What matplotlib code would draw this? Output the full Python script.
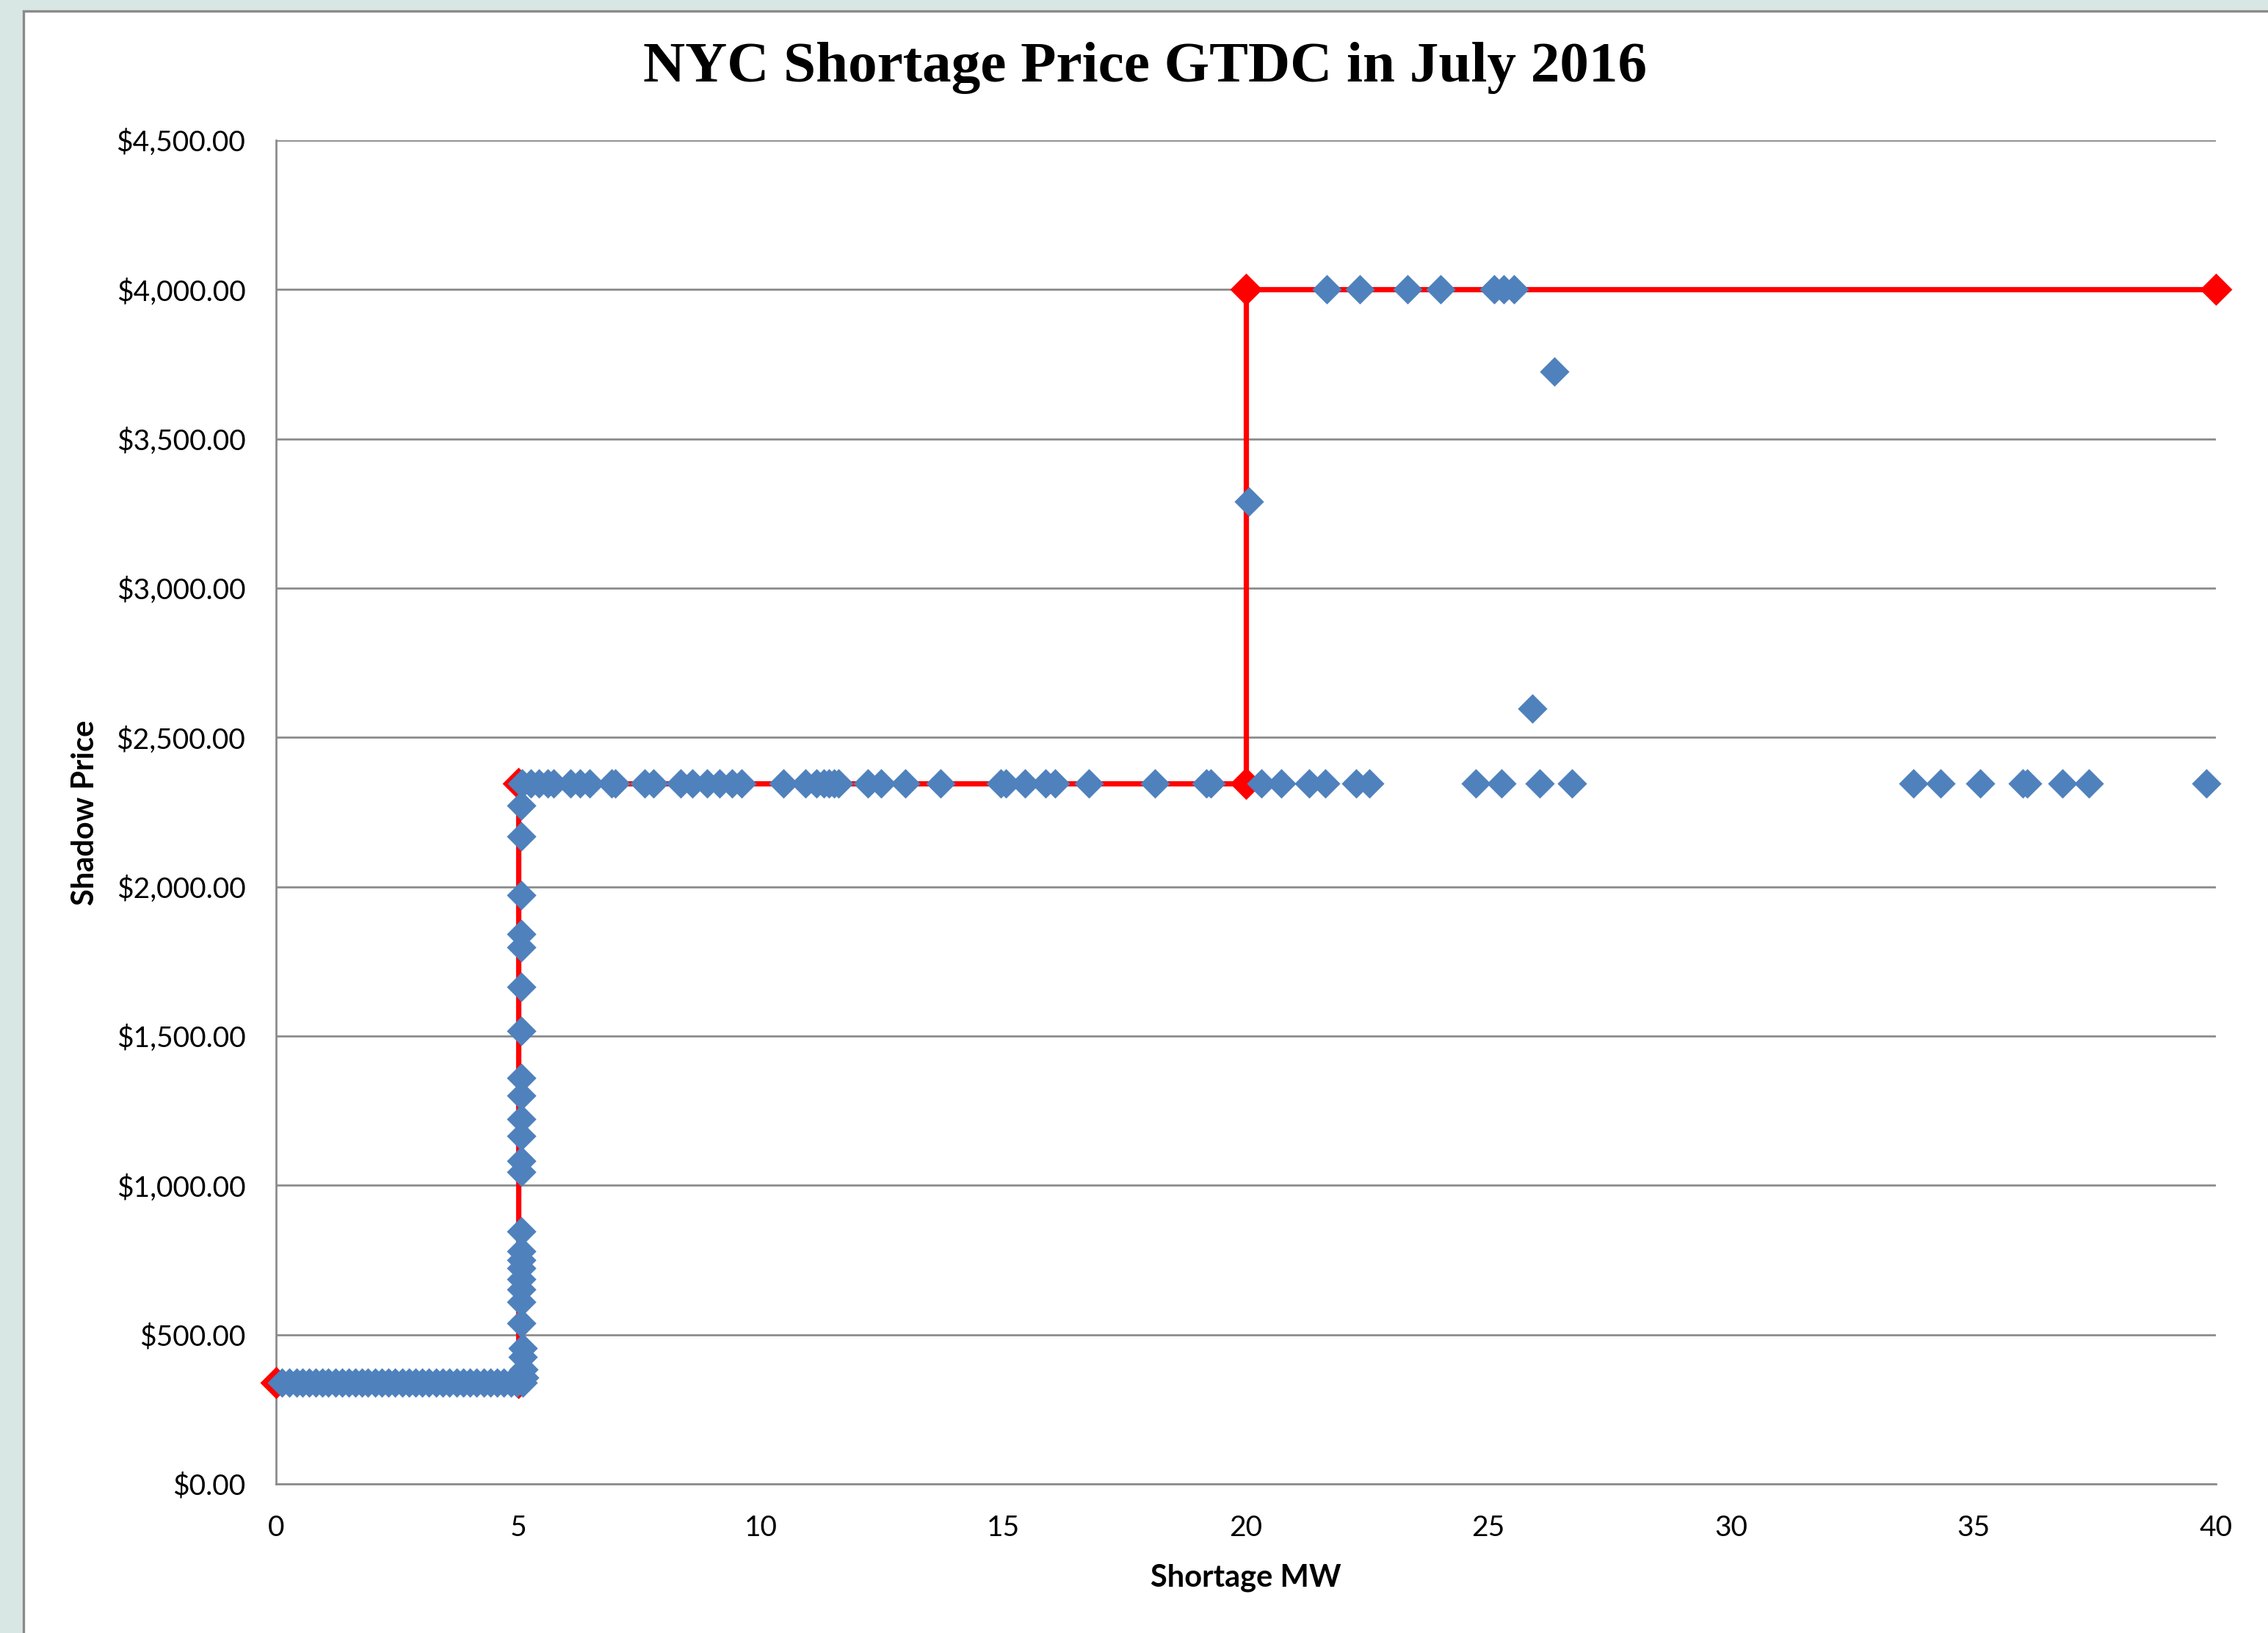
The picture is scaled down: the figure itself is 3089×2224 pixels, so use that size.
"""
NYC shortage price vs. shortage MW (GTDC), July 2016.
Excel-style scatter with the step curve on top.
"""

import matplotlib
matplotlib.use("Agg")
import matplotlib.pyplot as plt
from matplotlib.patches import Rectangle
from matplotlib.ticker import FuncFormatter, MultipleLocator

# ===== data =====
# demand curve (red step)
curve_mw = [0, 5, 5, 20, 20, 40]
curve_price = [340, 340, 2345, 2345, 4000, 4000]

# observed points on the $340 step
low_mw = [0.12, 0.27, 0.42, 0.55, 0.68, 0.82, 0.95, 1.08, 1.22, 1.36, 1.5,
          1.63, 1.77, 1.9, 2.05, 2.18, 2.32, 2.46, 2.6, 2.74, 2.88, 3.02,
          3.15, 3.3, 3.44, 3.58, 3.72, 3.86, 4.0, 4.14, 4.28, 4.42, 4.56,
          4.7, 4.84, 4.96, 5.08]
low_price = 340

# observed points on the vertical ramp at 5 MW
ramp_mw = [5.05, 5.05, 5.05, 5.05, 5.05, 5.05, 5.05, 5.05, 5.05, 5.05,
           5.05, 5.05, 5.05, 5.05, 5.05, 5.05, 5.05, 5.05, 5.05, 5.05,
           5.05, 5.08, 5.08, 5.1, 5.12]
ramp_price = [2272, 2169, 1972, 1842, 1797, 1665, 1517, 1360, 1301, 1222,
              1166, 1082, 1045, 846, 779, 750, 723, 686, 652, 610,
              538, 455, 425, 384, 357]

# observed points on the $2,345 step (and beyond 20 MW)
mid_mw = [5.07, 5.25, 5.42, 5.6, 5.72, 6.07, 6.27, 6.47, 6.92, 7.0, 7.6,
          7.78, 8.34, 8.59, 8.89, 9.14, 9.4, 9.6, 10.46, 10.92, 11.15,
          11.3, 11.4, 11.5, 11.6, 12.2, 12.47, 12.98, 13.7, 14.95, 15.05,
          15.45, 15.86, 16.06, 16.76, 18.13, 19.19, 19.27, 20.32, 20.73,
          21.3, 21.63, 22.27, 22.55, 24.74, 25.27, 26.05, 26.72, 33.76,
          34.32, 35.14, 36.02, 36.11, 36.84, 37.38, 39.8]
mid_price = 2345

# observed points on the $4,000 step
top_mw = [21.67, 22.35, 23.33, 24.01, 25.12, 25.31, 25.53]
top_price = 4000

# off-curve points
other_mw = [20.06, 26.36, 25.9]
other_price = [3290, 3726, 2597]

TITLE = "NYC Shortage Price GTDC in July 2016"
X_LABEL = "Shortage MW"
Y_LABEL = "Shadow Price"

BLUE = "#4F81BD"
RED = "#FF0000"
GRID = "#8C8C8C"

# ===== figure =====
W, H, DPI = 3089, 2224, 200
fig = plt.figure(figsize=(W / DPI, H / DPI), dpi=DPI, facecolor="#d8e7e3")

# white chart area with grey border (slide background shows on left/top)
fig.patches.append(Rectangle((32 / W, -0.01), 1.02, 1 - 15 / H + 0.01,
                             transform=fig.transFigure, facecolor="white",
                             edgecolor="#8a8a8a", linewidth=1.2, zorder=-10))

ax = fig.add_axes([376 / W, 1 - 2021 / H, (3018 - 376) / W, (2021 - 191) / H])
ax.set_zorder(1)
ax.set_facecolor("white")

ax.plot(curve_mw, curve_price, color=RED, lw=2.6, marker="D", ms=10,
        mec=RED, mfc=RED, zorder=3, clip_on=False)

xs = low_mw + ramp_mw + mid_mw + top_mw + other_mw
ys = ([low_price] * len(low_mw) + ramp_price + [mid_price] * len(mid_mw)
      + [top_price] * len(top_mw) + other_price)
ax.scatter(xs, ys, marker="D", s=105, color=BLUE, linewidths=0, zorder=4,
           clip_on=False)

ax.set_xlim(0, 40)
ax.set_ylim(0, 4500)
ax.xaxis.set_major_locator(MultipleLocator(5))
ax.yaxis.set_major_locator(MultipleLocator(500))
ax.yaxis.set_major_formatter(FuncFormatter(lambda v, p: f"${v:,.2f}"))

ax.grid(axis="y", color=GRID, lw=1.0, zorder=0)
ax.set_axisbelow(True)
for side in ["top", "right"]:
    ax.spines[side].set_visible(False)
for side in ["left", "bottom"]:
    ax.spines[side].set_color(GRID)
    ax.spines[side].set_linewidth(1.0)

ax.tick_params(axis="both", length=0, labelsize=14, colors="black")
ax.tick_params(axis="y", pad=15)
ax.tick_params(axis="x", pad=15)
for lab in ax.get_xticklabels() + ax.get_yticklabels():
    lab.set_fontfamily("Lato")

fig.text(1560 / W, 1 - 93 / H, TITLE, ha="center", va="center",
         fontsize=28.5, fontweight="bold", family="Liberation Serif")
fig.text(1697 / W, 1 - 2149 / H, X_LABEL, ha="center", va="center",
         fontsize=15, fontweight="bold", family="Lato")
fig.text(116 / W, 1 - 1107 / H, Y_LABEL, ha="center", va="center",
         rotation=90, fontsize=15, fontweight="bold", family="Lato")

fig.savefig("out.png", dpi=DPI, facecolor=fig.get_facecolor())
